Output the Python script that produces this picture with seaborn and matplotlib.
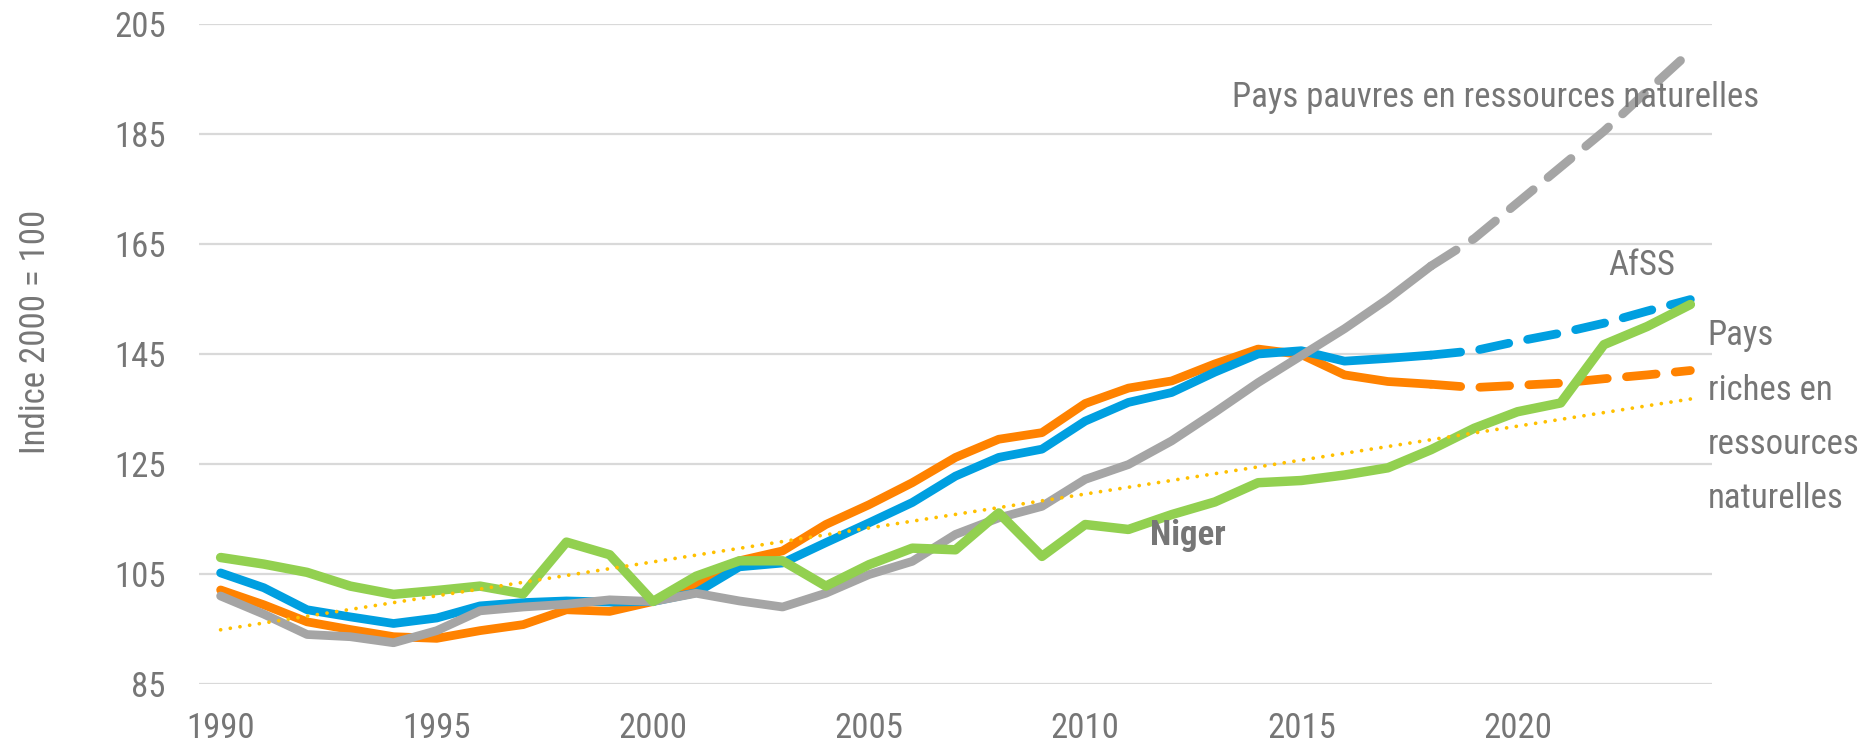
import matplotlib
matplotlib.use("Agg")
import matplotlib.pyplot as plt
from matplotlib import font_manager as fm
import seaborn as sns
import pandas as pd

# ---------------- data ----------------
years = list(range(1990, 2025))
last_actual_year = 2018

niger = [108.0, 106.8, 105.3, 102.8, 101.3, 102.0, 102.8, 101.4, 110.8, 108.5,
         100.0, 104.6, 107.4, 107.4, 102.8, 106.7, 109.7, 109.4, 116.1, 108.2,
         114.0, 113.1, 115.8, 118.1, 121.6, 122.0, 123.0, 124.3, 127.6, 131.5,
         134.5, 136.1, 146.7, 150.0, 154.0]

afss = [105.2, 102.5, 98.5, 97.2, 96.0, 97.0, 99.2, 99.8, 100.1, 99.9,
        100.0, 101.6, 106.3, 107.0, 110.7, 114.3, 118.0, 122.8, 126.2, 127.7,
        132.8, 136.2, 138.0, 141.7, 145.0, 145.6, 143.7, 144.2, 144.8, 145.6,
        147.3, 148.8, 150.6, 152.8, 154.9]

riches = [102.1, 99.4, 96.3, 94.9, 93.6, 93.3, 94.7, 95.8, 98.5, 98.2,
          100.0, 103.0, 107.4, 109.2, 114.0, 117.6, 121.6, 126.2, 129.5, 130.7,
          136.0, 138.8, 140.1, 143.2, 145.9, 144.9, 141.2, 140.0, 139.5, 138.9,
          139.3, 139.7, 140.5, 141.2, 142.0]

pauvres = [101.0, 97.7, 94.0, 93.6, 92.5, 94.7, 98.3, 99.0, 99.5, 100.3,
           100.0, 101.5, 100.1, 99.0, 101.5, 104.9, 107.3, 112.2, 115.2, 117.3,
           122.2, 124.9, 129.2, 134.4, 139.8, 144.7, 149.6, 155.0, 161.0, 166.0,
           172.5, 179.0, 185.5, 192.8, 200.0]

y_ticks = [85, 105, 125, 145, 165, 185, 205]
x_ticks = [1990, 1995, 2000, 2005, 2010, 2015, 2020]

label_pauvres = "Pays pauvres en ressources naturelles"
label_afss = "AfSS"
label_riches = ["Pays", "riches en", "ressources", "naturelles"]
label_niger = "Niger"
y_title = "Indice 2000 = 100"

# ---------------- style ----------------
c_orange = "#FF8200"
c_blue = "#009FE0"
c_green = "#92D050"
c_gray = "#A5A5A5"
c_trend = "#FFC000"
c_text = "#767676"
c_grid = "#D9D9D9"

sns.set_style("white")

# pick the narrowest sans family available (reference uses a narrow sans)
names = {f.name for f in fm.fontManager.ttflist}
cond_names = sorted({f.name for f in fm.fontManager.ttflist
                     if ("Narrow" in f.name or "Condensed" in f.name
                         or "Cond" in f.name)})
preferred = ["Liberation Sans Narrow", "Arial Narrow", "Roboto Condensed",
             "Open Sans Condensed", "Noto Sans Condensed", "DejaVu Sans Condensed"]
main_font = None
for p in preferred:
    if p in names:
        main_font = p
        break
if main_font is None and cond_names:
    main_font = cond_names[0]
if main_font is None:
    main_font = "Liberation Sans" if "Liberation Sans" in names else "DejaVu Sans"
plt.rcParams["font.family"] = [main_font, "DejaVu Sans"]

df = pd.DataFrame({"year": years, "niger": niger, "afss": afss,
                   "riches": riches, "pauvres": pauvres})
actual = df[df["year"] <= last_actual_year]
proj = df[df["year"] >= last_actual_year]

fig = plt.figure(figsize=(18.73, 7.47), dpi=100)
ax = fig.add_axes([199 / 1873, 1 - 684 / 747, (1712 - 199) / 1873, (684 - 24) / 747])

# size the text so that the long label has the reference width (~526 px)
renderer = fig.canvas.get_renderer()
probe = fig.text(0, 0, label_pauvres, fontsize=26)
w = probe.get_window_extent(renderer).width
probe.remove()
FS = min(27.0, 26 * 526.0 / w)

LW = 6.3
dash = (0, (3.4, 2.2))
common = dict(errorbar=None, solid_capstyle="round", legend=False)

for col, colr, z in [("riches", c_orange, 3), ("afss", c_blue, 4), ("pauvres", c_gray, 5)]:
    sns.lineplot(data=actual, x="year", y=col, ax=ax, color=colr, lw=LW, zorder=z,
                 **common)
    sns.lineplot(data=proj, x="year", y=col, ax=ax, color=colr, lw=LW, zorder=z,
                 linestyle=dash, dash_capstyle="round", errorbar=None, legend=False)

sns.lineplot(data=df, x="year", y="niger", ax=ax, color=c_green, lw=6.8, zorder=6,
             **common)

sns.regplot(data=df, x="year", y="niger", ax=ax, ci=None, scatter=False, truncate=True,
            line_kws=dict(color=c_trend, lw=2.7, linestyle=(0, (0.01, 2.6)),
                          dash_capstyle="round", zorder=7))

ax.set_xlim(1989.5, 2024.5)
ax.set_ylim(85, 205)
ax.set_yticks(y_ticks)
ax.set_xticks(x_ticks)
ax.set_xticklabels([str(v) for v in x_ticks])
ax.set_yticklabels([str(v) for v in y_ticks])
ax.set_xlabel("")
ax.set_ylabel("")
ax.grid(axis="y", color=c_grid, lw=1.6)
ax.grid(axis="x", visible=False)
ax.set_axisbelow(True)
for s in ax.spines.values():
    s.set_visible(False)
ax.tick_params(axis="both", length=0, labelsize=FS, colors=c_text)
ax.tick_params(axis="y", pad=24)
ax.tick_params(axis="x", pad=20)

# annotations
ax.text(2013.4, 189.9, label_pauvres, fontsize=FS, color=c_text,
        ha="left", va="baseline", clip_on=False, zorder=10)
ax.text(2022.1, 159.4, label_afss, fontsize=FS, color=c_text,
        ha="left", va="baseline", zorder=10)
ax.text(2011.5, 110.2, label_niger, fontsize=FS, color=c_text,
        fontweight="bold", ha="left", va="baseline", zorder=10)
for i, line in enumerate(label_riches):
    ax.text(2024.4, 146.6 - i * 9.88, line, fontsize=FS, color=c_text,
            ha="left", va="baseline", clip_on=False, zorder=10)

fig.text(36 / 1873, 1 - 332 / 747, y_title, rotation=90, fontsize=FS,
         color=c_text, ha="center", va="center")

fig.savefig("out.png", dpi=100, facecolor="white")
